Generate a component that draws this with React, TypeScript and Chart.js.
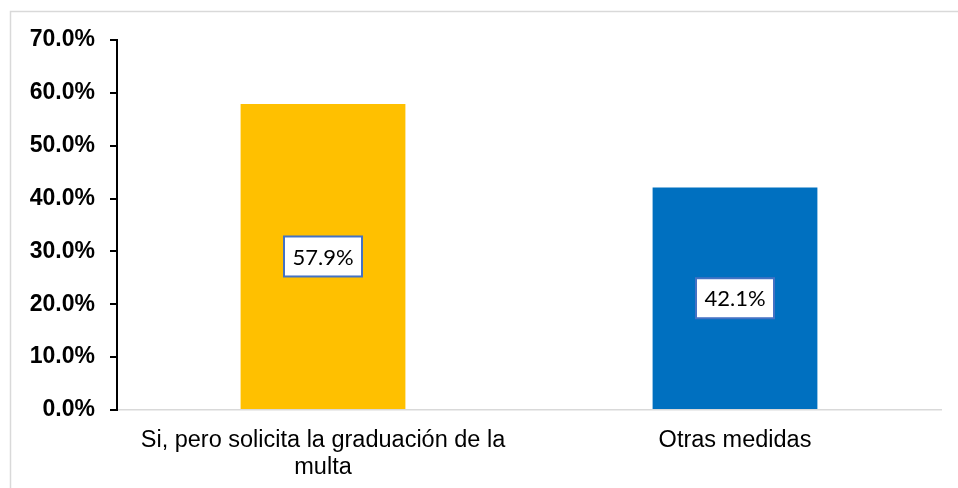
import React, { useEffect, useRef } from "react";
import { Chart, registerables } from "chart.js";

Chart.register(...registerables);

const categories: (string | string[])[] = [
  ["Si, pero solicita la graduación de la", "multa"],
  "Otras medidas",
];
const values: number[] = [57.9, 42.1];
const barColors: string[] = ["#FFC000", "#0070C0"];
const yMin = 0;
const yMax = 70;
const yStep = 10;

const framePlugin = {
  id: "frame",
  beforeDraw(chart: any) {
    const ctx = chart.ctx;
    ctx.save();
    ctx.fillStyle = "#ffffff";
    ctx.fillRect(0, 0, chart.width, chart.height);
    ctx.strokeStyle = "#d9d9d9";
    ctx.lineWidth = 1.5;
    ctx.beginPath();
    ctx.moveTo(10.5, chart.height + 5);
    ctx.lineTo(10.5, 11.5);
    ctx.lineTo(chart.width + 5, 11.5);
    ctx.stroke();
    ctx.restore();
  },
};

const labelPlugin = {
  id: "boxLabels",
  afterDatasetsDraw(chart: any) {
    const ctx = chart.ctx;
    const meta = chart.getDatasetMeta(0);
    ctx.save();
    ctx.font = "22px Lato";
    ctx.textAlign = "center";
    ctx.textBaseline = "middle";
    meta.data.forEach((bar: any, i: number) => {
      const text = values[i].toFixed(1) + "%";
      const cx = bar.x;
      const cy = (bar.y + bar.base) / 2;
      const w = 78;
      const h = 40;
      ctx.fillStyle = "#ffffff";
      ctx.fillRect(cx - w / 2, cy - h / 2, w, h);
      ctx.strokeStyle = "#4472C4";
      ctx.lineWidth = 2;
      ctx.strokeRect(cx - w / 2, cy - h / 2, w, h);
      ctx.fillStyle = "#000000";
      ctx.fillText(text, cx, cy + 1);
    });
    ctx.restore();
  },
};

export default function App() {
  const ref = useRef<HTMLCanvasElement | null>(null);
  useEffect(() => {
    if (!ref.current) return;
    const chart = new Chart(ref.current, {
      type: "bar",
      data: {
        labels: categories as any,
        datasets: [
          {
            data: values,
            backgroundColor: barColors,
            borderWidth: 0,
            categoryPercentage: 1,
            barPercentage: 0.4,
          },
        ],
      },
      options: {
        responsive: false,
        animation: false,
        layout: { padding: { top: 40, right: 17, bottom: 0, left: 0 } },
        plugins: {
          legend: { display: false },
          tooltip: { enabled: false },
        },
        scales: {
          x: {
            grid: { display: true, drawOnChartArea: false, drawTicks: false, color: "#d9d9d9" },
            border: { display: true, color: "#d9d9d9", width: 1.5 },
            ticks: {
              color: "#000000",
              font: { family: "Arial, 'Liberation Sans'", size: 23.5, lineHeight: 1.15 },
              padding: 17,
              maxRotation: 0,
              autoSkip: false,
            },
            afterFit(scale: any) {
              scale.height = 78;
            },
          },
          y: {
            min: yMin,
            max: yMax,
            grid: {
              display: true,
              drawOnChartArea: false,
              drawTicks: true,
              tickLength: 7,
              color: "#000000",
              lineWidth: 2,
            },
            border: { display: true, color: "#000000", width: 2 },
            ticks: {
              stepSize: yStep,
              color: "#000000",
              padding: 15,
              font: { family: "Arial, 'Liberation Sans'", size: 23, weight: "bold" },
              callback: (v: any) => Number(v).toFixed(1) + "%",
            },
            afterFit(scale: any) {
              scale.width = 117;
            },
          },
        },
      },
      plugins: [framePlugin, labelPlugin],
    });
    return () => chart.destroy();
  }, []);
  return (
    <div style={{ position: "absolute", left: 0, top: 0, width: 958, height: 488 }}>
      <canvas ref={ref} width={958} height={488} style={{ width: 958, height: 488 }} />
    </div>
  );
}
